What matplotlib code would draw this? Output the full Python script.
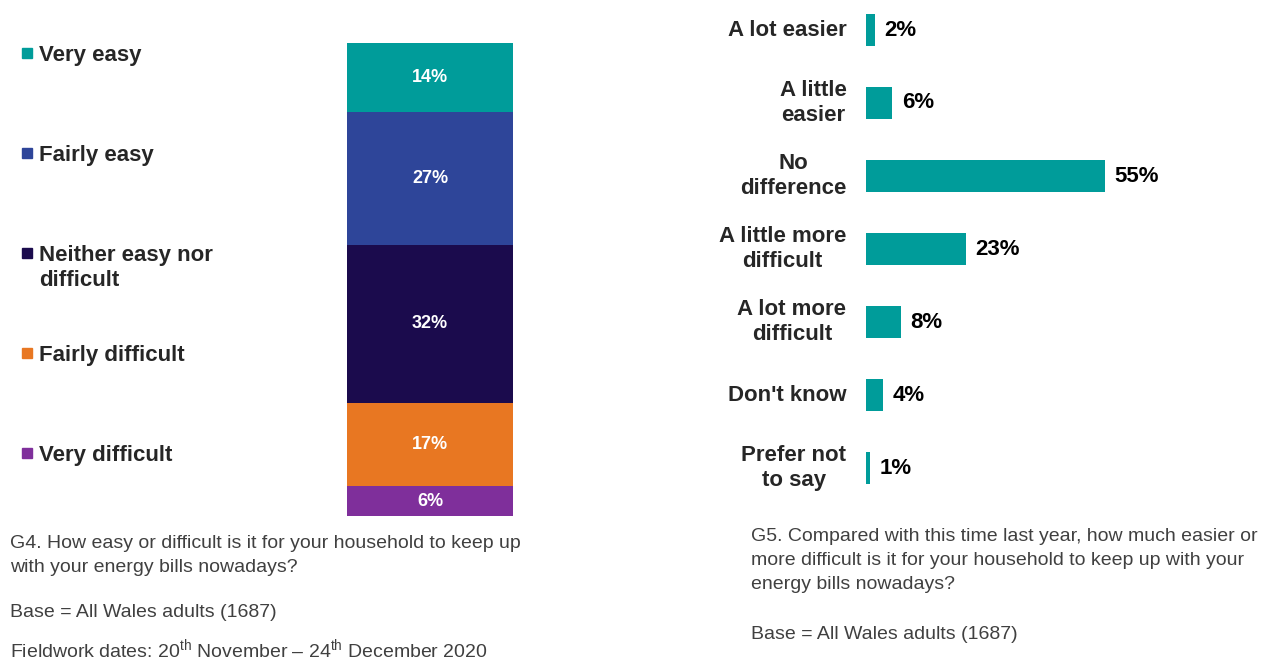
import matplotlib.pyplot as plt
from matplotlib.patches import Rectangle

plt.rcParams['font.family'] = ['Liberation Sans', 'DejaVu Sans']
plt.rcParams['mathtext.fontset'] = 'custom'
plt.rcParams['mathtext.rm'] = 'Liberation Sans'

W, H = 1265, 662

# G4 stacked bar
g4_labels = ["Very easy", "Fairly easy", "Neither easy nor\ndifficult",
             "Fairly difficult", "Very difficult"]
g4_values = [14, 27, 32, 17, 6]
g4_colors = ["#009C9A", "#2E4599", "#1B0B4D", "#E87722", "#7F2F9B"]

# G5 horizontal bars
g5_labels = ["A lot easier", "A little\neasier", "No\ndifference",
             "A little more\ndifficult", "A lot more\ndifficult",
             "Don't know", "Prefer not\nto say"]
g5_values = [2, 6, 55, 23, 8, 4, 1]
g5_color = "#009C9A"

TXT = "#262626"
NOTE = "#404040"


def px_axes(fig, x0, y0, x1, y1):
    # pixel box (top-left origin) -> figure axes
    return fig.add_axes([x0 / W, 1 - y1 / H, (x1 - x0) / W, (y1 - y0) / H])


def note(x, y, s):
    # y is the first line's baseline in pixels from the top; one text per line
    for k, line in enumerate(s.split("\n")):
        fig.text(x / W, 1 - (y + 24 * k) / H, line, ha="left", va="baseline",
                 fontsize=14, color=NOTE)


fig = plt.figure(figsize=(W / 100, H / 100), dpi=100)

# ---- left: stacked bar ----
ax1 = px_axes(fig, 347, 43, 513, 516)
bottom = 0
for v, c in zip(g4_values, g4_colors):
    ax1.bar(0, v, bottom=bottom, width=1, color=c, edgecolor="none")
    ax1.text(0, bottom + v / 2, f"{v}%", ha="center", va="center",
             color="white", fontsize=13, fontweight="bold")
    bottom += v
ax1.set_xlim(-0.5, 0.5)
ax1.set_ylim(sum(g4_values), 0)
ax1.axis("off")

# legend-style labels on the left
for i, (lab, c) in enumerate(zip(g4_labels, g4_colors)):
    y = 53 + 100 * i
    fig.patches.append(Rectangle((22 / W, 1 - (y + 5) / H), 10 / W, 10 / H,
                                 transform=fig.transFigure, color=c))
    for k, line in enumerate(lab.split("\n")):
        fig.text(39 / W, 1 - (y + 8 + 25 * k) / H, line, ha="left",
                 va="baseline", fontsize=16, fontweight="bold", color=TXT)

# ---- right: horizontal bars ----
ax2 = px_axes(fig, 866, 0, 1127, 505)
ypos = list(range(len(g5_values)))
ax2.barh(ypos, g5_values, height=0.45, color=g5_color)
for y, v, lab in zip(ypos, g5_values, g5_labels):
    ax2.text(v + 2.2, y, f"{v}%", ha="left", va="center",
             fontsize=16, fontweight="bold", color="black")
    ax2.text(-4.5, y, lab, ha="right", va="center", multialignment="center",
             fontsize=16, fontweight="bold", color=TXT, linespacing=1.2)
ax2.set_xlim(0, 60)
ax2.set_ylim(475 / 73, -30 / 73)
ax2.axis("off")

# ---- notes ----
note(10, 548, "G4. How easy or difficult is it for your household to keep up\n"
              "with your energy bills nowadays?")
note(10, 617, "Base = All Wales adults (1687)")
note(10, 658, r"Fieldwork dates: 20$^{\rm th}$ November – 24$^{\rm th}$ December 2020")

note(751, 541, "G5. Compared with this time last year, how much easier or\n"
               "more difficult is it for your household to keep up with your\n"
               "energy bills nowadays?")
note(751, 639, "Base = All Wales adults (1687)")

fig.savefig("out.png", dpi=100)
